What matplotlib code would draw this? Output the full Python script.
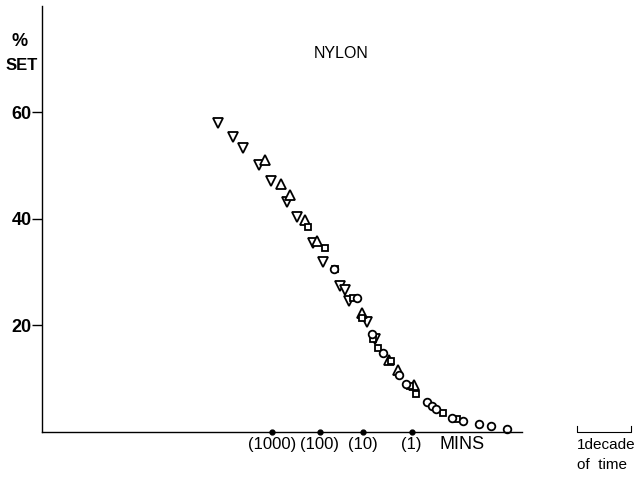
import matplotlib
matplotlib.use("Agg")
import matplotlib.pyplot as plt

plt.rcParams["font.family"] = ["Liberation Sans", "DejaVu Sans"]

# log time in decades from the set axis, % set on y; one list pair per marker set
down_x = [3.263, 3.552, 3.726, 4.022, 4.244, 4.541, 4.737, 5.022, 5.213, 5.522, 5.620, 5.700, 6.022, 6.176]
down_y = [57.9, 55.3, 53.2, 50.1, 47.1, 43.1, 40.3, 35.4, 31.9, 27.4, 26.6, 24.5, 20.6, 17.5]

up_x = [4.144, 4.435, 4.611, 4.880, 5.106, 5.930, 6.430, 6.593, 6.898]
up_y = [51.0, 46.5, 44.4, 39.8, 35.9, 22.3, 13.5, 11.6, 8.8]

sq_x = [4.941, 5.244, 5.435, 5.769, 5.944, 6.144, 6.231, 6.472, 6.815, 6.944, 7.430, 7.700]
sq_y = [38.5, 34.5, 30.6, 25.2, 21.3, 17.4, 15.7, 13.2, 8.5, 7.1, 3.5, 2.3]

circ_x = [5.422, 5.837, 6.120, 6.330, 6.624, 6.750, 7.133, 7.226, 7.306, 7.607, 7.811, 8.102, 8.319, 8.615]
circ_y = [30.6, 25.2, 18.3, 14.8, 10.6, 8.9, 5.6, 4.9, 4.2, 2.5, 2.1, 1.4, 1.1, 0.6]

# reference times marked along the time axis
time_pos = [4.269, 5.157, 5.954, 6.856]
time_labels = ["(1000)", "(100)", "(10)", "(1)"]
y_ticks = [20, 40, 60]

fig = plt.figure(figsize=(6.41, 4.79), dpi=100)
ax = fig.add_axes([41.5 / 641, 47.3 / 479, 1 - 41.5 / 641, 426.0 / 479])
ax.set_xlim(0, 599.5 / 54)
ax.set_ylim(0, 80)

for s in ("top", "right"):
    ax.spines[s].set_visible(False)
ax.spines["left"].set_linewidth(1.0)
ax.spines["bottom"].set_linewidth(1.0)
ax.spines["bottom"].set_bounds(0, 8.89)

ax.set_xticks([])
ax.set_yticks(y_ticks)
ax.set_yticklabels([str(v) for v in y_ticks], fontsize=13, fontweight="bold")
ax.tick_params(axis="y", direction="out", length=7, width=1.0, pad=0)

mk = dict(linestyle="none", markerfacecolor="white", markeredgecolor="black",
          markeredgewidth=1.3, clip_on=False)
ax.plot(down_x, down_y, marker="v", markersize=6.5, **mk)
ax.plot(up_x, up_y, marker="^", markersize=6.5, **mk)
ax.plot(sq_x, sq_y, marker="s", markersize=5, **mk)
ax.plot(circ_x, circ_y, marker="o", markersize=5.5, **mk)

ax.plot(time_pos, [0] * len(time_pos), "o", color="black", markersize=3.5, clip_on=False)
for x, lab in zip(time_pos, time_labels):
    ax.text(x, -2.4, lab, ha="center", va="center", fontsize=12)
ax.text(7.787, -2.4, "MINS", ha="center", va="center", fontsize=13)

ax.text(-0.398, 73.2, "%", ha="center", va="center", fontsize=13, fontweight="bold")
ax.text(-0.361, 68.7, "SET", ha="center", va="center", fontsize=12, fontweight="bold", clip_on=False)
ax.text(5.546, 71.1, "NYLON", ha="center", va="center", fontsize=11.5)

# scale bar: one decade of time
ax.plot([9.911, 9.911, 10.911, 10.911], [1.1, 0, 0, 1.1], color="black", lw=0.8, clip_on=False)
ax.text(9.911, -2.5, "1decade", ha="left", va="center", fontsize=11)
ax.text(9.911, -6.3, "of  time", ha="left", va="center", fontsize=11)

fig.savefig("out.png", dpi=100)
